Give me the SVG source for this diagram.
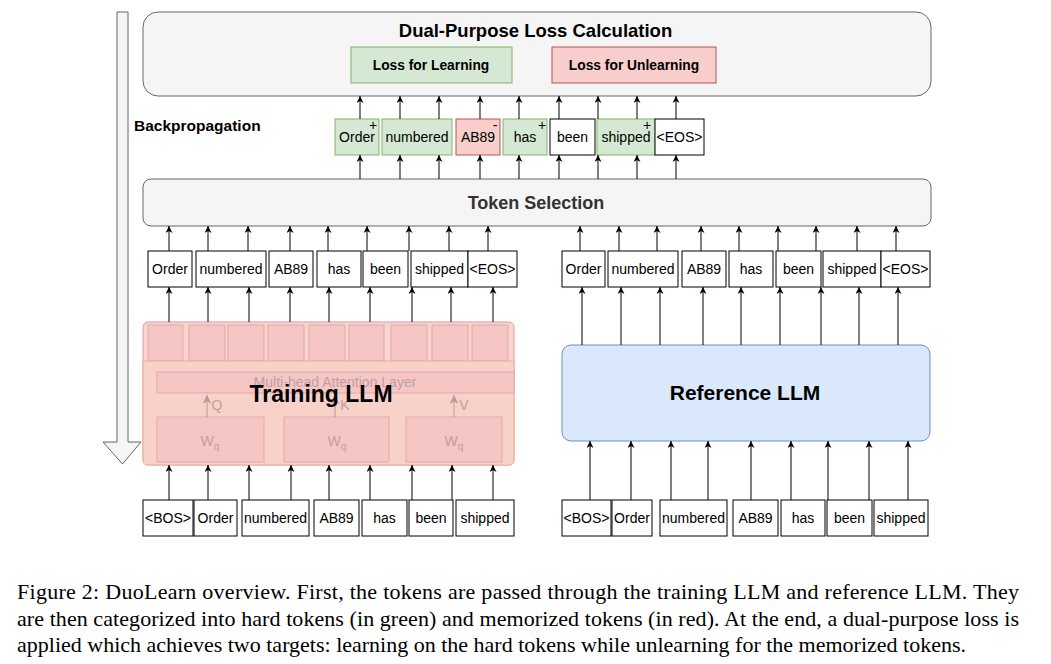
<svg xmlns="http://www.w3.org/2000/svg" width="1051" height="664" viewBox="0 0 1051 664">
<defs>
<marker id="ah" viewBox="0 0 10 10" refX="10" refY="5" markerWidth="7" markerHeight="7" markerUnits="userSpaceOnUse" orient="auto"><path d="M0,0 L10,5 L0,10 L3,5 Z" fill="#000"/></marker>
<marker id="ahg" viewBox="0 0 10 10" refX="10" refY="5" markerWidth="9" markerHeight="9" markerUnits="userSpaceOnUse" orient="auto"><path d="M0,0 L10,5 L0,10 L3,5 Z" fill="#b39c9b"/></marker>
</defs>
<style>
text{font-family:"Liberation Sans",Arial,sans-serif}
.panel{fill:#f5f5f5;stroke:#666;stroke-width:1}
.tok{fill:#fff;stroke:#000;stroke-width:1}
.g{fill:#d5e8d4;stroke:#82b366;stroke-width:1}
.r{fill:#f8cecc;stroke:#b85450;stroke-width:1}
.t{font-size:14px;text-anchor:middle;fill:#000}
.b{font-weight:bold;text-anchor:middle}
.sq{fill:#f5c6c4;stroke:#e4a9a7;stroke-width:1}
.fd{font-size:14px;fill:#bfa09e;text-anchor:middle}
.conn line{stroke:#000;stroke-width:1;marker-end:url(#ah)}
.cap{font-family:"Liberation Serif","Times New Roman",serif;font-size:22px;fill:#000}
</style>
<rect width="1051" height="664" fill="#fff"/>

<g id="backprop-arrow">
<path d="M117,12 L128,12 L128,442 L141,442 L122.5,464 L103,442 L117,442 Z" class="panel"/>
</g>

<g id="loss-calc">
<rect x="143" y="12" width="788" height="84" rx="15" class="panel"/>
<text x="535.5" y="37" class="b" font-size="18.5">Dual-Purpose Loss Calculation</text>
</g>
<g id="loss-learning">
<rect x="351" y="47" width="161" height="36" class="g"/>
<text x="431" y="70" class="b" font-size="13.8">Loss for Learning</text>
</g>
<g id="loss-unlearning">
<rect x="552" y="47" width="164" height="36" class="r"/>
<text x="634" y="70" class="b" font-size="13.8">Loss for Unlearning</text>
</g>

<g id="backprop-label"><text x="134" y="131" font-size="15.5" font-weight="bold">Backpropagation</text></g>

<g id="selected-tokens">
<rect x="335" y="119" width="44" height="36" class="g"/><text x="357" y="142" class="t">Order</text><text x="373" y="130" class="t">+</text>
<rect x="382" y="119" width="70" height="36" class="g"/><text x="417" y="142" class="t">numbered</text>
<rect x="456" y="119" width="44" height="36" class="r"/><text x="478" y="142" class="t">AB89</text><text x="495" y="130" class="t">-</text>
<rect x="503" y="119" width="44" height="36" class="g"/><text x="525" y="142" class="t">has</text><text x="542" y="130" class="t">+</text>
<rect x="550" y="119" width="45" height="36" class="tok"/><text x="572.5" y="142" class="t">been</text>
<rect x="597" y="119" width="58" height="36" class="g"/><text x="626" y="142" class="t">shipped</text><text x="647" y="130" class="t">+</text>
<rect x="655" y="119" width="49" height="36" class="tok"/><text x="679.5" y="142" class="t">&lt;EOS&gt;</text>
</g>

<g id="token-selection">
<rect x="143" y="179" width="788" height="47" rx="8" class="panel"/>
<text x="536" y="209" class="b" font-size="18" fill="#333">Token Selection</text>
</g>

<g id="train-out-tokens">
<rect x="148" y="251" width="44" height="36" class="tok"/><text x="170" y="274" class="t">Order</text>
<rect x="196" y="251" width="70" height="36" class="tok"/><text x="231" y="274" class="t">numbered</text>
<rect x="269" y="251" width="44" height="36" class="tok"/><text x="291" y="274" class="t">AB89</text>
<rect x="317" y="251" width="44" height="36" class="tok"/><text x="339" y="274" class="t">has</text>
<rect x="363" y="251" width="45" height="36" class="tok"/><text x="385.5" y="274" class="t">been</text>
<rect x="411" y="251" width="57" height="36" class="tok"/><text x="439.5" y="274" class="t">shipped</text>
<rect x="468" y="251" width="49" height="36" class="tok"/><text x="492.5" y="274" class="t">&lt;EOS&gt;</text>
</g>

<g id="ref-out-tokens">
<rect x="562" y="251" width="43" height="36" class="tok"/><text x="583.5" y="274" class="t">Order</text>
<rect x="608" y="251" width="70" height="36" class="tok"/><text x="643" y="274" class="t">numbered</text>
<rect x="682" y="251" width="44" height="36" class="tok"/><text x="704" y="274" class="t">AB89</text>
<rect x="729" y="251" width="44" height="36" class="tok"/><text x="751" y="274" class="t">has</text>
<rect x="776" y="251" width="45" height="36" class="tok"/><text x="798.5" y="274" class="t">been</text>
<rect x="823" y="251" width="58" height="36" class="tok"/><text x="852" y="274" class="t">shipped</text>
<rect x="881" y="251" width="49" height="36" class="tok"/><text x="905.5" y="274" class="t">&lt;EOS&gt;</text>
</g>

<g id="training-llm">
<rect x="143" y="322" width="371" height="143" rx="5" fill="#f9d4d2" stroke="#dc9d9b"/>
<rect x="148" y="325" width="35" height="36" class="sq"/>
<rect x="189" y="325" width="36" height="36" class="sq"/>
<rect x="228" y="325" width="36" height="36" class="sq"/>
<rect x="268" y="325" width="36" height="36" class="sq"/>
<rect x="309" y="325" width="36" height="36" class="sq"/>
<rect x="349" y="325" width="35" height="36" class="sq"/>
<rect x="391" y="325" width="36" height="36" class="sq"/>
<rect x="432" y="325" width="36" height="36" class="sq"/>
<rect x="472" y="325" width="36" height="36" class="sq"/>
<path d="M143,361 L514,361 L514,460 Q514,465 509,465 L148,465 Q143,465 143,460 Z" fill="#f8d1c9" stroke="#ebb08c"/>
<rect x="157" y="372" width="357" height="21" class="sq"/>
<text x="335" y="387" class="fd">Multi-head Attention Layer</text>
<rect x="157" y="417" width="107" height="45" class="sq"/>
<rect x="284" y="417" width="105" height="45" class="sq"/>
<rect x="406" y="417" width="96" height="45" class="sq"/>
<text x="210" y="446" class="fd">W<tspan font-size="10" dy="4">q</tspan></text>
<text x="337" y="446" class="fd">W<tspan font-size="10" dy="4">q</tspan></text>
<text x="454" y="446" class="fd">W<tspan font-size="10" dy="4">q</tspan></text>
<line x1="207" y1="417" x2="207" y2="395" stroke="#b39c9b" marker-end="url(#ahg)"/>
<line x1="335" y1="417" x2="335" y2="395" stroke="#b39c9b" marker-end="url(#ahg)"/>
<line x1="454" y1="417" x2="454" y2="395" stroke="#b39c9b" marker-end="url(#ahg)"/>
<text x="217" y="410" class="fd">Q</text>
<text x="345" y="410" class="fd">K</text>
<text x="464" y="410" class="fd">V</text>
<text x="321" y="402" class="b" font-size="23">Training LLM</text>
</g>

<g id="reference-llm">
<rect x="562" y="345" width="368" height="96" rx="9" fill="#dae8fc" stroke="#6c8ebf"/>
<text x="745" y="400" class="b" font-size="21">Reference LLM</text>
</g>

<g id="train-in-tokens">
<rect x="143" y="500" width="50" height="36" class="tok"/><text x="168" y="523" class="t">&lt;BOS&gt;</text>
<rect x="194" y="500" width="43" height="36" class="tok"/><text x="215.5" y="523" class="t">Order</text>
<rect x="242" y="500" width="67" height="36" class="tok"/><text x="275.5" y="523" class="t">numbered</text>
<rect x="314" y="500" width="45" height="36" class="tok"/><text x="336.5" y="523" class="t">AB89</text>
<rect x="362" y="500" width="45" height="36" class="tok"/><text x="384.5" y="523" class="t">has</text>
<rect x="409" y="500" width="44" height="36" class="tok"/><text x="431" y="523" class="t">been</text>
<rect x="456" y="500" width="58" height="36" class="tok"/><text x="485" y="523" class="t">shipped</text>
</g>

<g id="ref-in-tokens">
<rect x="562" y="500" width="49" height="36" class="tok"/><text x="586.5" y="523" class="t">&lt;BOS&gt;</text>
<rect x="612" y="500" width="40" height="36" class="tok"/><text x="632" y="523" class="t">Order</text>
<rect x="660" y="500" width="67" height="36" class="tok"/><text x="693.5" y="523" class="t">numbered</text>
<rect x="733" y="500" width="45" height="36" class="tok"/><text x="755.5" y="523" class="t">AB89</text>
<rect x="781" y="500" width="44" height="36" class="tok"/><text x="803" y="523" class="t">has</text>
<rect x="827" y="500" width="45" height="36" class="tok"/><text x="849.5" y="523" class="t">been</text>
<rect x="874" y="500" width="54" height="36" class="tok"/><text x="901" y="523" class="t">shipped</text>
</g>

<g id="connectors" class="conn">
<line x1="360" y1="119" x2="360" y2="96"/><line x1="400" y1="119" x2="400" y2="96"/><line x1="439" y1="119" x2="439" y2="96"/>
<line x1="480" y1="119" x2="480" y2="96"/><line x1="519" y1="119" x2="519" y2="96"/><line x1="559" y1="119" x2="559" y2="96"/>
<line x1="598" y1="119" x2="598" y2="96"/><line x1="637" y1="119" x2="637" y2="96"/><line x1="676" y1="119" x2="676" y2="96"/>

<line x1="360" y1="179" x2="360" y2="155"/><line x1="400" y1="179" x2="400" y2="155"/><line x1="439" y1="179" x2="439" y2="155"/>
<line x1="480" y1="179" x2="480" y2="155"/><line x1="519" y1="179" x2="519" y2="155"/><line x1="559" y1="179" x2="559" y2="155"/>
<line x1="598" y1="179" x2="598" y2="155"/><line x1="637" y1="179" x2="637" y2="155"/><line x1="676" y1="179" x2="676" y2="155"/>

<line x1="169" y1="251" x2="169" y2="226"/><line x1="208" y1="251" x2="208" y2="226"/><line x1="248" y1="251" x2="248" y2="226"/>
<line x1="290" y1="251" x2="290" y2="226"/><line x1="328" y1="251" x2="328" y2="226"/><line x1="367" y1="251" x2="367" y2="226"/>
<line x1="409" y1="251" x2="409" y2="226"/><line x1="449" y1="251" x2="449" y2="226"/><line x1="488" y1="251" x2="488" y2="226"/>

<line x1="580" y1="251" x2="580" y2="226"/><line x1="619" y1="251" x2="619" y2="226"/><line x1="657" y1="251" x2="657" y2="226"/>
<line x1="701" y1="251" x2="701" y2="226"/><line x1="739" y1="251" x2="739" y2="226"/><line x1="778" y1="251" x2="778" y2="226"/>
<line x1="816" y1="251" x2="816" y2="226"/><line x1="857" y1="251" x2="857" y2="226"/><line x1="896" y1="251" x2="896" y2="226"/>

<line x1="169" y1="322" x2="169" y2="287"/><line x1="208" y1="322" x2="208" y2="287"/><line x1="249" y1="322" x2="249" y2="287"/>
<line x1="290" y1="322" x2="290" y2="287"/><line x1="329" y1="322" x2="329" y2="287"/><line x1="370" y1="322" x2="370" y2="287"/>
<line x1="412" y1="322" x2="412" y2="287"/><line x1="451" y1="322" x2="451" y2="287"/><line x1="493" y1="322" x2="493" y2="287"/>

<line x1="582" y1="345" x2="582" y2="287"/><line x1="621" y1="345" x2="621" y2="287"/><line x1="660" y1="345" x2="660" y2="287"/>
<line x1="703" y1="345" x2="703" y2="287"/><line x1="741" y1="345" x2="741" y2="287"/><line x1="780" y1="345" x2="780" y2="287"/>
<line x1="821" y1="345" x2="821" y2="287"/><line x1="859" y1="345" x2="859" y2="287"/><line x1="898" y1="345" x2="898" y2="287"/>

<line x1="169" y1="500" x2="169" y2="465"/><line x1="208" y1="500" x2="208" y2="465"/><line x1="249" y1="500" x2="249" y2="465"/>
<line x1="291" y1="500" x2="291" y2="465"/><line x1="329" y1="500" x2="329" y2="465"/><line x1="370" y1="500" x2="370" y2="465"/>
<line x1="412" y1="500" x2="412" y2="465"/><line x1="452" y1="500" x2="452" y2="465"/><line x1="493" y1="500" x2="493" y2="465"/>

<line x1="590" y1="500" x2="590" y2="441"/><line x1="631" y1="500" x2="631" y2="441"/><line x1="671" y1="500" x2="671" y2="441"/>
<line x1="708" y1="500" x2="708" y2="441"/><line x1="751" y1="500" x2="751" y2="441"/><line x1="791" y1="500" x2="791" y2="441"/>
<line x1="828" y1="500" x2="828" y2="441"/><line x1="869" y1="500" x2="869" y2="441"/><line x1="908" y1="500" x2="908" y2="441"/>
</g>

<g id="caption">
<text x="17" y="599" class="cap" textLength="1002" lengthAdjust="spacing">Figure 2: DuoLearn overview. First, the tokens are passed through the training LLM and reference LLM. They</text>
<text x="17" y="626" class="cap" textLength="1002" lengthAdjust="spacing">are then categorized into hard tokens (in green) and memorized tokens (in red). At the end, a dual-purpose loss is</text>
<text x="17" y="652" class="cap" textLength="949" lengthAdjust="spacing">applied which achieves two targets: learning on the hard tokens while unlearning for the memorized tokens.</text>
</g>
</svg>
